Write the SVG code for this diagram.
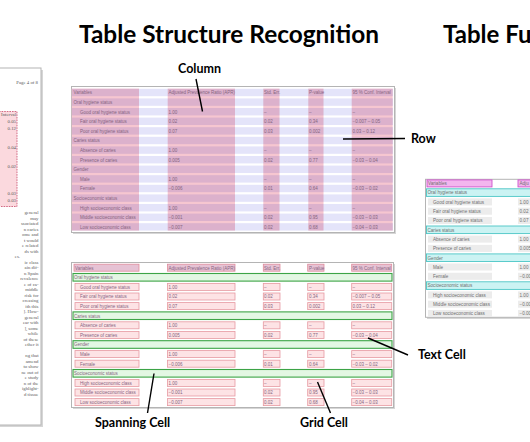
<svg xmlns="http://www.w3.org/2000/svg" width="530" height="442" viewBox="0 0 530 442">
<style>
.ttl{font-family:Lato,"Open Sans",sans-serif;font-weight:700;font-size:24px;fill:#000}
.lbl{font-family:Lato,"Open Sans",sans-serif;font-weight:700;font-size:12.5px;fill:#000}
.frame{fill:#fff;stroke:#b4b4b4;stroke-width:1}
.shadow{fill:#d6d6d6}
.col{fill:#f6c6d0}
.row{fill:#e4e4fa;mix-blend-mode:multiply}
.t{font-family:"Liberation Sans",Arial,sans-serif;font-size:4.5px;fill:#86647f}
.rt{font-family:"Liberation Sans",Arial,sans-serif;font-size:4.6px;fill:#707070}
.cell{fill:#fde3e5;stroke:#e69aa2;stroke-width:0.8}
.hcell{fill:#e6c2d4;stroke:#e08c9c;stroke-width:0.8}
.span{fill:#e3f7e3;stroke:#3ca446;stroke-width:1.1}
.cyan{fill:#cbf3f3;stroke:#4cc6c6;stroke-width:0.9}
.mag{fill:#f3b6ee;stroke:#cf52cc;stroke-width:0.9}
.grey{fill:#ececec}
.pg{font-family:"Liberation Serif","Times New Roman",serif;font-size:4.8px;fill:#5a5a5a;text-anchor:end}
.lead{stroke:#000;stroke-width:1.4;fill:none}
</style>

<g id="title-structure"><text class="ttl" x="79" y="42.7" textLength="300" lengthAdjust="spacingAndGlyphs">Table Structure Recognition</text></g>
<g id="title-functional"><text class="ttl" x="443" y="42.7">Table Fu</text></g>

<g id="left-page">
<rect class="shadow" x="-1" y="70" width="44" height="357"/>
<rect class="frame" x="-3" y="68" width="44" height="357" stroke="#a0a0a0"/>
<text class="pg" x="38" y="84" font-size="3.8">Page 4 of 8</text>
<rect x="-1" y="111.5" width="18" height="95" fill="#fbd9de" stroke="#c84a6a" stroke-width="0.8" stroke-dasharray="1.6 1"/>
<text class="pg" x="16" y="116" font-size="3.4" fill="#8a6a7a">Interval</text>
<text class="pg" x="16" y="123" font-size="3.6" fill="#8a6a7a">0.05</text>
<text class="pg" x="16" y="130" font-size="3.6" fill="#8a6a7a">0.12</text>
<text class="pg" x="16" y="149" font-size="3.6" fill="#8a6a7a">0.04</text>
<text class="pg" x="16" y="168" font-size="3.6" fill="#8a6a7a">0.02</text>
<text class="pg" x="16" y="195" font-size="3.6" fill="#8a6a7a">0.03</text>
<text class="pg" x="16" y="202" font-size="3.6" fill="#8a6a7a">0.03</text>
<text class="pg" x="38.5" y="214">general</text>
<text class="pg" x="38.5" y="219.5">may</text>
<text class="pg" x="38.5" y="225">ssociated</text>
<text class="pg" x="38.5" y="230.5">n caries</text>
<text class="pg" x="38.5" y="236">ome and</text>
<text class="pg" x="38.5" y="241.5">t would</text>
<text class="pg" x="38.5" y="247">e related</text>
<text class="pg" x="38.5" y="252.5">ds with</text>
<text class="pg" x="20" y="258">es.</text>
<text class="pg" x="38.5" y="263.5">ic class</text>
<text class="pg" x="38.5" y="269">ain dif-</text>
<text class="pg" x="38.5" y="274.5">n Spain</text>
<text class="pg" x="38.5" y="280">revalence</text>
<text class="pg" x="38.5" y="285.5">e of ca-</text>
<text class="pg" x="38.5" y="291">middle</text>
<text class="pg" x="38.5" y="296.5">risk for</text>
<text class="pg" x="38.5" y="302">creasing</text>
<text class="pg" x="38.5" y="307.5">ith this</text>
<text class="pg" x="38.5" y="313">]. How-</text>
<text class="pg" x="38.5" y="318.5">general</text>
<text class="pg" x="38.5" y="324">ear with</text>
<text class="pg" x="38.5" y="329.5">], some</text>
<text class="pg" x="38.5" y="335">while</text>
<text class="pg" x="38.5" y="340.5">of these</text>
<text class="pg" x="38.5" y="346">ether it</text>
<text class="pg" x="38.5" y="357">ng that</text>
<text class="pg" x="38.5" y="362.5">amend</text>
<text class="pg" x="38.5" y="368">to show</text>
<text class="pg" x="38.5" y="373.5">ne out of</text>
<text class="pg" x="38.5" y="379">e study</text>
<text class="pg" x="38.5" y="384.5">n of the</text>
<text class="pg" x="38.5" y="390">ighlight-</text>
<text class="pg" x="38.5" y="395.5">d tissue</text>
</g>

<g id="table-rows-columns">
<rect class="shadow" x="73" y="88" width="323" height="146"/>
<rect class="frame" x="71.5" y="86.5" width="323" height="146"/>
<g style="isolation:isolate">
<rect class="col" x="71.7" y="88.6" width="67.3" height="142"/>
<rect class="col" x="167.7" y="88.6" width="67.3" height="142"/>
<rect class="col" x="263.3" y="88.6" width="16.2" height="142"/>
<rect class="col" x="308.3" y="88.6" width="15.2" height="142"/>
<rect class="col" x="351.7" y="88.6" width="41" height="142"/>
<rect class="row" x="72" y="88.8" width="321" height="7.4"/>
<rect class="row" x="72" y="98.4" width="321" height="7.4"/>
<rect class="row" x="72" y="108" width="321" height="7.4"/>
<rect class="row" x="72" y="117.6" width="321" height="7.4"/>
<rect class="row" x="72" y="127.2" width="321" height="7.4"/>
<rect class="row" x="72" y="136.8" width="321" height="7.4"/>
<rect class="row" x="72" y="146.4" width="321" height="7.4"/>
<rect class="row" x="72" y="156" width="321" height="7.4"/>
<rect class="row" x="72" y="165.6" width="321" height="7.4"/>
<rect class="row" x="72" y="175.2" width="321" height="7.4"/>
<rect class="row" x="72" y="184.8" width="321" height="7.4"/>
<rect class="row" x="72" y="194.4" width="321" height="7.4"/>
<rect class="row" x="72" y="204" width="321" height="7.4"/>
<rect class="row" x="72" y="213.6" width="321" height="7.4"/>
<rect class="row" x="72" y="223.2" width="321" height="7.4"/>
</g>
<text class="t" x="73.5" y="94.4">Variables</text><text class="t" x="168.5" y="94.4">Adjusted Prevalence Ratio (APR)</text><text class="t" x="264" y="94.4">Std. Err.</text><text class="t" x="309" y="94.4">P-value</text><text class="t" x="352.5" y="94.4">95 % Conf. Interval</text>
<text class="t" x="73.5" y="104">Oral hygiene status</text>
<text class="t" x="80" y="113.6">Good oral hygiene status</text><text class="t" x="168.5" y="113.6">1.00</text><text class="t" x="264" y="113.6">–</text><text class="t" x="309" y="113.6">–</text><text class="t" x="352.5" y="113.6">–</text>
<text class="t" x="80" y="123.2">Fair oral hygiene status</text><text class="t" x="168.5" y="123.2">0.02</text><text class="t" x="264" y="123.2">0.02</text><text class="t" x="309" y="123.2">0.34</text><text class="t" x="352.5" y="123.2">−0.007 – 0.05</text>
<text class="t" x="80" y="132.8">Poor oral hygiene status</text><text class="t" x="168.5" y="132.8">0.07</text><text class="t" x="264" y="132.8">0.03</text><text class="t" x="309" y="132.8">0.002</text><text class="t" x="352.5" y="132.8">0.03 – 0.12</text>
<text class="t" x="73.5" y="142.4">Caries status</text>
<text class="t" x="80" y="152">Absence of caries</text><text class="t" x="168.5" y="152">1.00</text><text class="t" x="264" y="152">–</text><text class="t" x="309" y="152">–</text><text class="t" x="352.5" y="152">–</text>
<text class="t" x="80" y="161.6">Presence of caries</text><text class="t" x="168.5" y="161.6">0.005</text><text class="t" x="264" y="161.6">0.02</text><text class="t" x="309" y="161.6">0.77</text><text class="t" x="352.5" y="161.6">−0.03 – 0.04</text>
<text class="t" x="73.5" y="171.2">Gender</text>
<text class="t" x="80" y="180.8">Male</text><text class="t" x="168.5" y="180.8">1.00</text><text class="t" x="264" y="180.8">–</text><text class="t" x="309" y="180.8">–</text><text class="t" x="352.5" y="180.8">–</text>
<text class="t" x="80" y="190.4">Female</text><text class="t" x="168.5" y="190.4">−0.006</text><text class="t" x="264" y="190.4">0.01</text><text class="t" x="309" y="190.4">0.64</text><text class="t" x="352.5" y="190.4">−0.03 – 0.02</text>
<text class="t" x="73.5" y="200">Socioeconomic status</text>
<text class="t" x="80" y="209.6">High socioeconomic class</text><text class="t" x="168.5" y="209.6">1.00</text><text class="t" x="264" y="209.6">–</text><text class="t" x="309" y="209.6">–</text><text class="t" x="352.5" y="209.6">–</text>
<text class="t" x="80" y="219.2">Middle socioeconomic class</text><text class="t" x="168.5" y="219.2">−0.001</text><text class="t" x="264" y="219.2">0.02</text><text class="t" x="309" y="219.2">0.95</text><text class="t" x="352.5" y="219.2">−0.03 – 0.03</text>
<text class="t" x="80" y="228.8">Low socioeconomic class</text><text class="t" x="168.5" y="228.8">−0.007</text><text class="t" x="264" y="228.8">0.02</text><text class="t" x="309" y="228.8">0.68</text><text class="t" x="352.5" y="228.8">−0.04 – 0.03</text>
</g>

<g id="table-cells">
<rect class="shadow" x="73" y="264" width="322" height="145"/>
<rect class="frame" x="71.5" y="262.5" width="322" height="145"/>
<rect class="hcell" x="74" y="264.2" width="65" height="7"/><rect class="hcell" x="167.5" y="264.2" width="67.5" height="7"/><rect class="hcell" x="263.3" y="264.2" width="16.7" height="7"/><rect class="hcell" x="307.7" y="264.2" width="16.3" height="7"/><rect class="hcell" x="351.7" y="264.2" width="40" height="7"/>
<rect class="span" x="73" y="273.5" width="319" height="7.6"/>
<rect class="cell" x="75" y="283.4" width="64" height="7"/><rect class="cell" x="167.5" y="283.4" width="67.5" height="7"/><rect class="cell" x="263.3" y="283.4" width="16.7" height="7"/><rect class="cell" x="307.7" y="283.4" width="16.3" height="7"/><rect class="cell" x="351.7" y="283.4" width="40" height="7"/>
<rect class="cell" x="75" y="293" width="64" height="7"/><rect class="cell" x="167.5" y="293" width="67.5" height="7"/><rect class="cell" x="263.3" y="293" width="16.7" height="7"/><rect class="cell" x="307.7" y="293" width="16.3" height="7"/><rect class="cell" x="351.7" y="293" width="40" height="7"/>
<rect class="cell" x="75" y="302.6" width="64" height="7"/><rect class="cell" x="167.5" y="302.6" width="67.5" height="7"/><rect class="cell" x="263.3" y="302.6" width="16.7" height="7"/><rect class="cell" x="307.7" y="302.6" width="16.3" height="7"/><rect class="cell" x="351.7" y="302.6" width="40" height="7"/>
<rect class="span" x="73" y="311.9" width="319" height="7.6"/>
<rect class="cell" x="75" y="321.8" width="64" height="7"/><rect class="cell" x="167.5" y="321.8" width="67.5" height="7"/><rect class="cell" x="263.3" y="321.8" width="16.7" height="7"/><rect class="cell" x="307.7" y="321.8" width="16.3" height="7"/><rect class="cell" x="351.7" y="321.8" width="40" height="7"/>
<rect class="cell" x="75" y="331.4" width="64" height="7"/><rect class="cell" x="167.5" y="331.4" width="67.5" height="7"/><rect class="cell" x="263.3" y="331.4" width="16.7" height="7"/><rect class="cell" x="307.7" y="331.4" width="16.3" height="7"/><rect class="cell" x="351.7" y="331.4" width="40" height="7"/>
<rect class="span" x="73" y="340.7" width="319" height="7.6"/>
<rect class="cell" x="75" y="350.6" width="64" height="7"/><rect class="cell" x="167.5" y="350.6" width="67.5" height="7"/><rect class="cell" x="263.3" y="350.6" width="16.7" height="7"/><rect class="cell" x="307.7" y="350.6" width="16.3" height="7"/><rect class="cell" x="351.7" y="350.6" width="40" height="7"/>
<rect class="cell" x="75" y="360.2" width="64" height="7"/><rect class="cell" x="167.5" y="360.2" width="67.5" height="7"/><rect class="cell" x="263.3" y="360.2" width="16.7" height="7"/><rect class="cell" x="307.7" y="360.2" width="16.3" height="7"/><rect class="cell" x="351.7" y="360.2" width="40" height="7"/>
<rect class="span" x="73" y="369.5" width="319" height="7.6"/>
<rect class="cell" x="75" y="379.4" width="64" height="7"/><rect class="cell" x="167.5" y="379.4" width="67.5" height="7"/><rect class="cell" x="263.3" y="379.4" width="16.7" height="7"/><rect class="cell" x="307.7" y="379.4" width="16.3" height="7"/><rect class="cell" x="351.7" y="379.4" width="40" height="7"/>
<rect class="cell" x="75" y="389" width="64" height="7"/><rect class="cell" x="167.5" y="389" width="67.5" height="7"/><rect class="cell" x="263.3" y="389" width="16.7" height="7"/><rect class="cell" x="307.7" y="389" width="16.3" height="7"/><rect class="cell" x="351.7" y="389" width="40" height="7"/>
<rect class="cell" x="75" y="398.6" width="64" height="7"/><rect class="cell" x="167.5" y="398.6" width="67.5" height="7"/><rect class="cell" x="263.3" y="398.6" width="16.7" height="7"/><rect class="cell" x="307.7" y="398.6" width="16.3" height="7"/><rect class="cell" x="351.7" y="398.6" width="40" height="7"/>
<text class="t" x="75" y="269.5">Variables</text><text class="t" x="168.5" y="269.5">Adjusted Prevalence Ratio (APR)</text><text class="t" x="264" y="269.5">Std. Err.</text><text class="t" x="309" y="269.5">P-value</text><text class="t" x="352.5" y="269.5">95 % Conf. Interval</text>
<text class="t" x="74" y="279.1">Oral hygiene status</text>
<text class="t" x="80" y="288.7">Good oral hygiene status</text><text class="t" x="168.5" y="288.7">1.00</text><text class="t" x="264" y="288.7">–</text><text class="t" x="309" y="288.7">–</text><text class="t" x="352.5" y="288.7">–</text>
<text class="t" x="80" y="298.3">Fair oral hygiene status</text><text class="t" x="168.5" y="298.3">0.02</text><text class="t" x="264" y="298.3">0.02</text><text class="t" x="309" y="298.3">0.34</text><text class="t" x="352.5" y="298.3">−0.007 – 0.05</text>
<text class="t" x="80" y="307.9">Poor oral hygiene status</text><text class="t" x="168.5" y="307.9">0.07</text><text class="t" x="264" y="307.9">0.03</text><text class="t" x="309" y="307.9">0.002</text><text class="t" x="352.5" y="307.9">0.03 – 0.12</text>
<text class="t" x="74" y="317.5">Caries status</text>
<text class="t" x="80" y="327.1">Absence of caries</text><text class="t" x="168.5" y="327.1">1.00</text><text class="t" x="264" y="327.1">–</text><text class="t" x="309" y="327.1">–</text><text class="t" x="352.5" y="327.1">–</text>
<text class="t" x="80" y="336.7">Presence of caries</text><text class="t" x="168.5" y="336.7">0.005</text><text class="t" x="264" y="336.7">0.02</text><text class="t" x="309" y="336.7">0.77</text><text class="t" x="352.5" y="336.7">−0.03 – 0.04</text>
<text class="t" x="74" y="346.3">Gender</text>
<text class="t" x="80" y="355.9">Male</text><text class="t" x="168.5" y="355.9">1.00</text><text class="t" x="264" y="355.9">–</text><text class="t" x="309" y="355.9">–</text><text class="t" x="352.5" y="355.9">–</text>
<text class="t" x="80" y="365.5">Female</text><text class="t" x="168.5" y="365.5">−0.006</text><text class="t" x="264" y="365.5">0.01</text><text class="t" x="309" y="365.5">0.64</text><text class="t" x="352.5" y="365.5">−0.03 – 0.02</text>
<text class="t" x="74" y="375.1">Socioeconomic status</text>
<text class="t" x="80" y="384.7">High socioeconomic class</text><text class="t" x="168.5" y="384.7">1.00</text><text class="t" x="264" y="384.7">–</text><text class="t" x="309" y="384.7">–</text><text class="t" x="352.5" y="384.7">–</text>
<text class="t" x="80" y="394.3">Middle socioeconomic class</text><text class="t" x="168.5" y="394.3">−0.001</text><text class="t" x="264" y="394.3">0.02</text><text class="t" x="309" y="394.3">0.95</text><text class="t" x="352.5" y="394.3">−0.03 – 0.03</text>
<text class="t" x="80" y="403.9">Low socioeconomic class</text><text class="t" x="168.5" y="403.9">−0.007</text><text class="t" x="264" y="403.9">0.02</text><text class="t" x="309" y="403.9">0.68</text><text class="t" x="352.5" y="403.9">−0.04 – 0.03</text>
</g>

<g id="table-functional">
<rect class="shadow" x="427" y="181" width="110" height="138"/>
<rect class="frame" x="425.5" y="179.3" width="110" height="138"/>
<rect class="mag" x="427" y="179.9" width="65" height="7"/><rect class="mag" x="518" y="179.9" width="14" height="7"/>
<rect class="cyan" x="426.5" y="188.8" width="106" height="7.6"/>
<rect class="grey" x="428" y="198.4" width="64" height="7"/><rect class="grey" x="518" y="198.4" width="14" height="7"/>
<rect class="grey" x="428" y="207.7" width="64" height="7"/><rect class="grey" x="518" y="207.7" width="14" height="7"/>
<rect class="grey" x="428" y="217" width="64" height="7"/><rect class="grey" x="518" y="217" width="14" height="7"/>
<rect class="cyan" x="426.5" y="226" width="106" height="7.6"/>
<rect class="grey" x="428" y="235.6" width="64" height="7"/><rect class="grey" x="518" y="235.6" width="14" height="7"/>
<rect class="grey" x="428" y="244.9" width="64" height="7"/><rect class="grey" x="518" y="244.9" width="14" height="7"/>
<rect class="cyan" x="426.5" y="253.9" width="106" height="7.6"/>
<rect class="grey" x="428" y="263.5" width="64" height="7"/><rect class="grey" x="518" y="263.5" width="14" height="7"/>
<rect class="grey" x="428" y="272.8" width="64" height="7"/><rect class="grey" x="518" y="272.8" width="14" height="7"/>
<rect class="cyan" x="426.5" y="281.8" width="106" height="7.6"/>
<rect class="grey" x="428" y="291.4" width="64" height="7"/><rect class="grey" x="518" y="291.4" width="14" height="7"/>
<rect class="grey" x="428" y="300.7" width="64" height="7"/><rect class="grey" x="518" y="300.7" width="14" height="7"/>
<rect class="grey" x="428" y="310" width="64" height="7"/><rect class="grey" x="518" y="310" width="14" height="7"/>
<text class="rt" x="428" y="185.1">Variables</text><text class="rt" x="519.5" y="185.1">Adju</text>
<text class="rt" x="427.5" y="194.4">Oral hygiene status</text>
<text class="rt" x="433" y="203.7">Good oral hygiene status</text><text class="rt" x="519.5" y="203.7">1.00</text>
<text class="rt" x="433" y="213">Fair oral hygiene status</text><text class="rt" x="519.5" y="213">0.02</text>
<text class="rt" x="433" y="222.3">Poor oral hygiene status</text><text class="rt" x="519.5" y="222.3">0.07</text>
<text class="rt" x="427.5" y="231.6">Caries status</text>
<text class="rt" x="433" y="240.9">Absence of caries</text><text class="rt" x="519.5" y="240.9">1.00</text>
<text class="rt" x="433" y="250.2">Presence of caries</text><text class="rt" x="519.5" y="250.2">0.005</text>
<text class="rt" x="427.5" y="259.5">Gender</text>
<text class="rt" x="433" y="268.8">Male</text><text class="rt" x="519.5" y="268.8">1.00</text>
<text class="rt" x="433" y="278.1">Female</text><text class="rt" x="519.5" y="278.1" font-size="4.2">−0.006</text>
<text class="rt" x="427.5" y="287.4">Socioeconomic status</text>
<text class="rt" x="433" y="296.7">High socioeconomic class</text><text class="rt" x="519.5" y="296.7">1.00</text>
<text class="rt" x="433" y="306">Middle socioeconomic class</text><text class="rt" x="519.5" y="306" font-size="4.2">−0.001</text>
<text class="rt" x="433" y="315.3">Low socioeconomic class</text><text class="rt" x="519.5" y="315.3" font-size="4.2">−0.007</text>
</g>

<g id="label-column"><text class="lbl" x="178" y="72.5">Column</text></g>
<g id="label-row"><text class="lbl" x="411" y="143.3">Row</text></g>
<g id="label-text-cell"><text class="lbl" x="418" y="359">Text Cell</text></g>
<g id="label-spanning-cell"><text class="lbl" x="95" y="426.7">Spanning Cell</text></g>
<g id="label-grid-cell"><text class="lbl" x="300" y="426.7">Grid Cell</text></g>

<g id="connectors">
<line class="lead" x1="196" y1="79" x2="202.5" y2="111.5"/>
<line class="lead" x1="343" y1="139" x2="405" y2="138.5"/>
<line class="lead" x1="368" y1="338" x2="408" y2="355"/>
<line class="lead" x1="154" y1="373.5" x2="147.5" y2="413"/>
<line class="lead" x1="317.5" y1="382" x2="330.5" y2="413"/>
</g>
</svg>
